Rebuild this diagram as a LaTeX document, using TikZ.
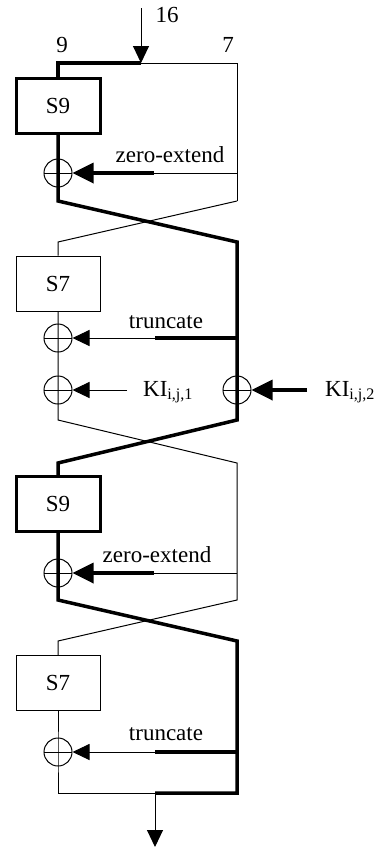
\documentclass[tikz,border=0pt]{standalone}
\usepackage{fontspec}
\setmainfont{Liberation Serif}
\usetikzlibrary{arrows.meta}
\begin{document}
\begin{tikzpicture}[x=1pt,y=-1pt,
  thinl/.style={line width=1pt},
  thickl/.style={line width=3.5pt},
  sbox/.style={draw, minimum width=84pt, minimum height=55pt, inner sep=0pt},
  sboxthick/.style={sbox, line width=3pt},
  sboxthin/.style={sbox, line width=1pt},
  xor/.style={circle, draw, line width=1pt, minimum size=28pt, inner sep=0pt,
    path picture={\draw[line width=1pt] (path picture bounding box.west) -- (path picture bounding box.east);}},
  smallhead/.style={-{Triangle[length=17pt,width=16pt]}},
  bighead/.style={-{Triangle[length=21pt,width=20pt]}},
  lbl/.style={font=\fontsize{23}{27}\selectfont, inner sep=0pt}
]
\useasboundingbox (0,0) rectangle (382,847);

% nodes
\node[sboxthick, lbl] (s9a) at (58,105.5) {S9};
\node[sboxthin, lbl] (s7a) at (58,283.5) {S7};
\node[sboxthick, lbl] (s9b) at (58,504) {S9};
\node[sboxthin, lbl] (s7b) at (58,683) {S7};
\node[xor] (x1) at (58,173) {};
\node[xor] (x2) at (58,338) {};
\node[xor] (x3) at (58,390) {};
\node[xor] (x4) at (237,390) {};
\node[xor] (x5) at (58,573) {};
\node[xor] (x6) at (58,752) {};

% coordinates
\coordinate (in0) at (141,8);
\coordinate (in1) at (141,63);
\coordinate (tl) at (58,63);
\coordinate (tr) at (237,63);
\coordinate (l1) at (58,201);
\coordinate (r1) at (237,201);
\coordinate (l2) at (58,242);
\coordinate (r2) at (237,242);
\coordinate (l3) at (58,420);
\coordinate (r3) at (237,420);
\coordinate (l4) at (58,463);
\coordinate (r4) at (237,463);
\coordinate (l5) at (58,600);
\coordinate (r5) at (237,600);
\coordinate (l6) at (58,641);
\coordinate (r6) at (237,641);
\coordinate (bl) at (58,793);
\coordinate (br) at (237,793);
\coordinate (bm) at (155,793);
\coordinate (out) at (155,847);
\coordinate (z1r) at (237,173);
\coordinate (z1m) at (154,173);
\coordinate (t1r) at (237,338);
\coordinate (t1m) at (155,338);
\coordinate (k1) at (127,390);
\coordinate (k2) at (307,390);
\coordinate (z2r) at (237,573);
\coordinate (z2m) at (154,573);
\coordinate (t2r) at (237,752);
\coordinate (t2m) at (155,752);

% input
\draw[thinl, smallhead] (in0) -- (in1);
\draw[thickl, line join=miter] (in1) -- (tl) -- (s9a.north);
\draw[thinl] (in1) -- (tr) -- (r1);

% main thick path
\draw[thickl, line join=miter] (s9a.south) -- (x1.center) -- (l1) -- (r2) -- (x4.center) -- (r3) -- (l4) -- (s9b.north);
\draw[thickl, line join=miter] (s9b.south) -- (x5.center) -- (l5) -- (r6) -- (br) -- (bm);

% main thin path
\draw[thinl] (r1) -- (l2) -- (s7a.north);
\draw[thinl] (s7a.south) -- (x2.center) -- (x3.center) -- (l3) -- (r4) -- (r5) -- (l6) -- (s7b.north);
\draw[thinl] (s7b.south) -- (x6.center) -- (bl) -- (bm);
\draw[thinl, smallhead] (bm) -- (out);

% side arrows
\draw[thinl] (z1r) -- (z1m);
\draw[thickl, bighead] (z1m) -- (x1.east);
\draw[thickl] (t1r) -- (t1m);
\draw[thinl, smallhead] (t1m) -- (x2.east);
\draw[thinl, smallhead] (k1) -- (x3.east);
\draw[thickl, bighead] (k2) -- (x4.east);
\draw[thinl] (z2r) -- (z2m);
\draw[thickl, bighead] (z2m) -- (x5.east);
\draw[thickl] (t2r) -- (t2m);
\draw[thinl, smallhead] (t2m) -- (x6.east);

% labels
\node[lbl] (n16) at (167,15) {16};
\node[lbl] (n9) at (62,45) {9};
\node[lbl] (n7) at (228,45) {7};
\node[lbl] (ze1) at (170,155) {zero-extend};
\node[lbl] (tr1) at (166,322) {truncate};
\node[lbl, anchor=base west] (ki1) at (143,396) {KI\textsubscript{i,j,1}};
\node[lbl, anchor=base west] (ki2) at (325,396) {KI\textsubscript{i,j,2}};
\node[lbl] (ze2) at (157,555) {zero-extend};
\node[lbl] (tr2) at (166,734) {truncate};
\end{tikzpicture}
\end{document}
